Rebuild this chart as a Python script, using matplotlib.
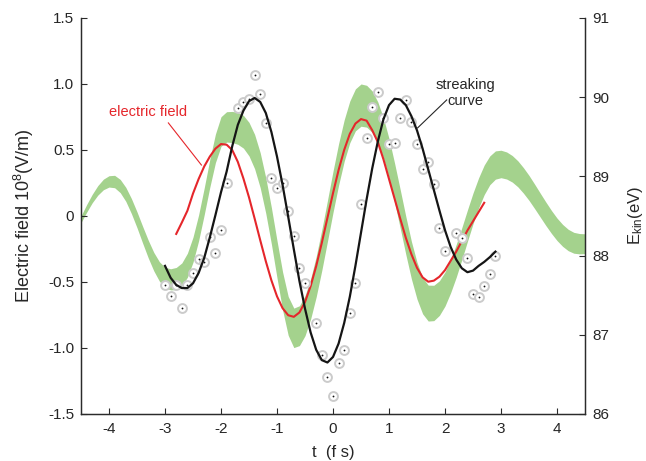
import matplotlib
matplotlib.use("Agg")
import matplotlib.pyplot as plt

plt.rcParams['font.family'] = ['Liberation Sans', 'DejaVu Sans']
plt.rcParams['mathtext.fontset'] = 'custom'
plt.rcParams['mathtext.rm'] = 'Liberation Sans'
plt.rcParams['mathtext.it'] = 'Liberation Sans:italic'

# ---------------- data ----------------
# green uncertainty band (left axis, 10^8 V/m)
t_band = [round(-4.5 + 0.1 * i, 1) for i in range(91)]
band_upper = [0.000, 0.086, 0.164, 0.230, 0.279, 0.305, 0.308, 0.277, 0.217, 0.132,
              0.031, -0.078, -0.183, -0.276, -0.347, -0.389, -0.400, -0.390, -0.356, -0.282,
              -0.160, 0.008, 0.212, 0.428, 0.620, 0.752, 0.790, 0.792, 0.785, 0.762,
              0.709, 0.618, 0.479, 0.289, 0.063, -0.187, -0.425, -0.610, -0.698, -0.680,
              -0.604, -0.477, -0.306, -0.104, 0.116, 0.339, 0.548, 0.729, 0.871, 0.963,
              1.000, 0.990, 0.947, 0.864, 0.743, 0.586, 0.399, 0.200, -0.003, -0.193,
              -0.351, -0.466, -0.524, -0.525, -0.491, -0.424, -0.330, -0.216, -0.089, 0.045,
              0.174, 0.289, 0.386, 0.455, 0.493, 0.498, 0.485, 0.458, 0.418, 0.366,
              0.307, 0.241, 0.173, 0.106, 0.042, -0.016, -0.064, -0.101, -0.124, -0.133,
              -0.135]
band_lower = [-0.050, 0.028, 0.100, 0.158, 0.199, 0.219, 0.214, 0.177, 0.111, 0.018,
              -0.089, -0.205, -0.317, -0.416, -0.494, -0.543, -0.560, -0.558, -0.530, -0.464,
              -0.350, -0.188, 0.009, 0.218, 0.404, 0.528, 0.560, 0.556, 0.543, 0.514,
              0.455, 0.358, 0.214, 0.019, -0.213, -0.469, -0.713, -0.904, -0.997, -0.982,
              -0.907, -0.781, -0.612, -0.412, -0.194, 0.027, 0.234, 0.415, 0.555, 0.645,
              0.680, 0.673, 0.633, 0.556, 0.439, 0.286, 0.103, -0.092, -0.291, -0.477,
              -0.630, -0.741, -0.796, -0.793, -0.753, -0.682, -0.582, -0.464, -0.331, -0.193,
              -0.059, 0.061, 0.162, 0.237, 0.279, 0.290, 0.280, 0.257, 0.221, 0.173,
              0.118, 0.056, -0.008, -0.072, -0.132, -0.186, -0.230, -0.263, -0.282, -0.287,
              -0.285]

# electric field (red, left axis)
t_field = [round(-2.8 + 0.1 * i, 1) for i in range(56)]
field = [-0.136, -0.05, 0.04, 0.17, 0.28, 0.375, 0.45, 0.51, 0.545, 0.54,
         0.50, 0.41, 0.284, 0.141, -0.019, -0.183, -0.343, -0.488, -0.609, -0.699,
         -0.752, -0.764, -0.731, -0.652, -0.531, -0.379, -0.203, -0.015, 0.173, 0.349,
         0.501, 0.622, 0.700, 0.734, 0.722, 0.65, 0.56, 0.43, 0.28, 0.13,
         -0.02, -0.165, -0.29, -0.393, -0.465, -0.498, -0.49, -0.46, -0.41, -0.34,
         -0.27, -0.19, -0.11, -0.04, 0.03, 0.10]

# streaking curve (black, right axis, eV)
t_curve = [round(-3.0 + 0.1 * i, 1) for i in range(60)]
e_curve = [87.87, 87.72, 87.63, 87.59, 87.59, 87.65, 87.78, 87.97, 88.23, 88.51,
           88.80, 89.06, 89.38, 89.65, 89.83, 89.95, 89.99, 89.94, 89.80, 89.56,
           89.25, 88.89, 88.49, 88.08, 87.68, 87.33, 87.03, 86.81, 86.68, 86.65,
           86.72, 86.89, 87.15, 87.48, 87.87, 88.29, 88.71, 89.10, 89.44, 89.72,
           89.90, 89.98, 89.97, 89.90, 89.76, 89.58, 89.35, 89.09, 88.83, 88.57,
           88.32, 88.11, 87.95, 87.84, 87.79, 87.81, 87.87, 87.92, 87.98, 88.05]

# measured points (right axis, eV)
t_pts = [-3.0, -2.9, -2.8, -2.7, -2.6, -2.5, -2.4, -2.3, -2.2, -2.1, -2.0, -1.9,
         -1.7, -1.6, -1.5, -1.4, -1.3, -1.2, -1.1, -1.0, -0.9, -0.8, -0.7, -0.6, -0.5,
         -0.3, -0.2, -0.1, 0.0, 0.1, 0.2, 0.3, 0.4, 0.5, 0.6, 0.7, 0.8, 0.9, 1.0,
         1.1, 1.2, 1.3, 1.4, 1.5, 1.6, 1.7, 1.8, 1.9, 2.0, 2.2, 2.3, 2.4, 2.5,
         2.6, 2.7, 2.8, 2.9]
e_pts = [87.63, 87.49, 87.63, 87.34, 87.63, 87.78, 87.96, 87.92, 88.23, 88.03, 88.32, 88.92,
         89.86, 89.94, 89.98, 90.28, 90.04, 89.67, 88.98, 88.85, 88.92, 88.56, 88.25, 87.84, 87.65,
         87.15, 86.74, 86.47, 86.23, 86.64, 86.81, 87.28, 87.65, 88.65, 89.48, 89.88, 90.07, 89.74, 89.41,
         89.42, 89.74, 89.96, 89.69, 89.41, 89.09, 89.18, 88.90, 88.35, 88.06, 88.29, 88.22, 87.97, 87.52,
         87.48, 87.62, 87.77, 88.00]

x_ticks = [-4, -3, -2, -1, 0, 1, 2, 3, 4]
x_labels = ['-4', '-3', '-2', '-1', '0', '1', '2', '3', '4']
yl_ticks = [-1.5, -1.0, -0.5, 0, 0.5, 1.0, 1.5]
yl_labels = ['-1.5', '-1.0', '-0.5', '0', '0.5', '1.0', '1.5']
yr_ticks = [86, 87, 88, 89, 90, 91]
yr_labels = ['86', '87', '88', '89', '90', '91']

# ---------------- figure ----------------
fig = plt.figure(figsize=(6.46, 4.61), dpi=100)
ax = fig.add_axes([0.1254, 0.102, 0.7802, 0.859])

green = '#a4d28d'
red = '#e5262b'
spine_col = '#2b2b2b'
text_col = '#262626'

ax.fill_between(t_band, band_lower, band_upper, color=green, lw=0, zorder=1)
ax.plot(t_field, field, color=red, lw=1.5, zorder=3)

ax.set_xlim(-4.5, 4.5)
ax.set_ylim(-1.5, 1.5)
ax.set_xticks(x_ticks)
ax.set_xticklabels(x_labels)
ax.set_yticks(yl_ticks)
ax.set_yticklabels(yl_labels)

ax2 = ax.twinx()
ax2.plot(t_pts, e_pts, 'o', ms=6.4, mfc='white', mec='#cbcbcb', mew=1.4, zorder=2)
ax2.plot(t_pts, e_pts, 'o', ms=1.3, color='#111111', mew=0, zorder=3)
ax2.plot(t_curve, e_curve, color='#151515', lw=1.6, zorder=4)
ax2.set_ylim(86, 91)
ax2.set_yticks(yr_ticks)
ax2.set_yticklabels(yr_labels)

for a in (ax, ax2):
    a.spines['top'].set_visible(False)
    for s in ('left', 'right', 'bottom'):
        a.spines[s].set_color(spine_col)
        a.spines[s].set_linewidth(0.9)
    a.tick_params(direction='in', length=4, width=0.8, colors=spine_col,
                  labelsize=11, labelcolor=text_col, pad=5)

ax.tick_params(axis='x', pad=6)

ax.set_ylabel(r'Electric field 10$^{8}$(V/m)', fontsize=13, color=text_col)
ax.yaxis.set_label_coords(-0.09, 0.5)
ax2.set_ylabel(r'E$_{\mathregular{kin}}$(eV)', fontsize=12, color=text_col)
ax2.yaxis.set_label_coords(1.082, 0.5)
ax.set_xlabel('t  (f s)', fontsize=12, color=text_col)
ax.xaxis.set_label_coords(0.5, -0.078)

# annotations
ax.text(-3.30, 0.79, 'electric field', color=red, fontsize=10.5, ha='center', va='center')
ax.plot([-2.94, -2.35], [0.705, 0.386], color=red, lw=0.8, zorder=3)
ax.text(2.37, 0.93, 'streaking\ncurve', color=text_col, fontsize=10.5, ha='center',
        va='center', linespacing=1.15)
ax.plot([2.03, 1.51], [0.879, 0.667], color=text_col, lw=0.8, zorder=3)

fig.savefig('out.png', dpi=100)
